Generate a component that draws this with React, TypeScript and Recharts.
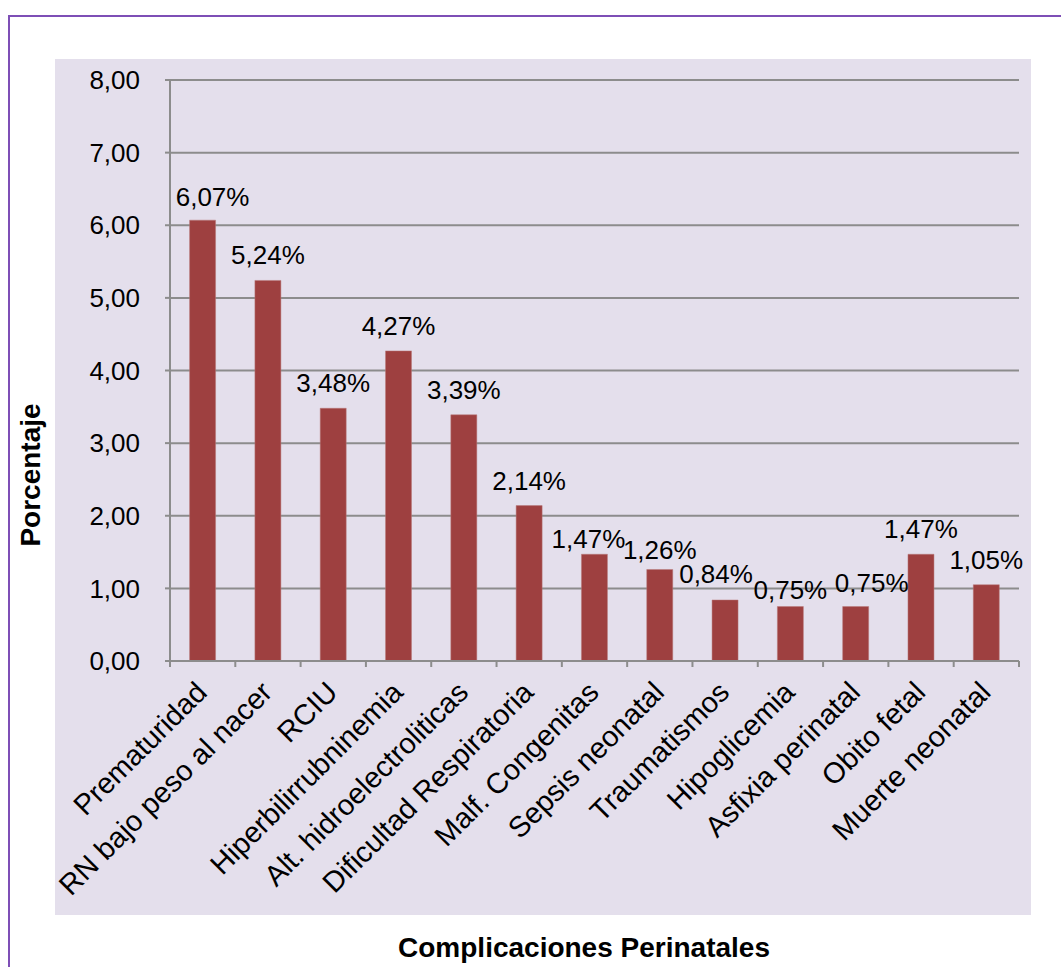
import { BarChart, Bar, XAxis, YAxis, CartesianGrid, LabelList } from 'recharts'

const categories = [
  'Prematuridad',
  'RN bajo peso al nacer',
  'RCIU',
  'Hiperbilirrubninemia',
  'Alt. hidroelectroliticas',
  'Dificultad Respiratoria',
  'Malf. Congenitas',
  'Sepsis neonatal',
  'Traumatismos',
  'Hipoglicemia',
  'Asfixia perinatal',
  'Obito fetal',
  'Muerte neonatal',
]

const percentages = [6.07, 5.24, 3.48, 4.27, 3.39, 2.14, 1.47, 1.26, 0.84, 0.75, 0.75, 1.47, 1.05]

const yTicks = [0, 1, 2, 3, 4, 5, 6, 7, 8]

const data = categories.map((name, i) => ({ name, value: percentages[i] }))

// small nudges like Excel does to keep crowded data labels apart
const labelNudge: Record<number, [number, number]> = {
  0: [10, 2],
  6: [-6, 10],
  7: [0, 6],
  8: [-9, -1],
  9: [0, 8],
  10: [16, 1],
}

const FONT = '"Liberation Sans", Arial, sans-serif'
const GRID = '#8c8c8c'

const fmt = (v: number) => v.toFixed(2).replace('.', ',')

function CategoryTick(props: any) {
  const { x, y, payload, index } = props
  const half = payload?.offset ?? 32.65
  const last = index === categories.length - 1
  return (
    <g>
      <line x1={x - half} x2={x - half} y1={y} y2={y + 6} stroke={GRID} strokeWidth={2} />
      {last && <line x1={x + half} x2={x + half} y1={y} y2={y + 6} stroke={GRID} strokeWidth={2} />}
      <text
        transform={`translate(${x + 6},${y + 33}) rotate(-45)`}
        textAnchor="end"
        fontSize={29}
        fontFamily={FONT}
        fill="#000"
      >
        {payload.value}
      </text>
    </g>
  )
}

function ValueLabel(props: any) {
  const { x, y, width, value, index } = props
  const [dx, dy] = labelNudge[index] ?? [0, 0]
  return (
    <text
      x={x + width / 2 + dx}
      y={y - 16 + dy}
      textAnchor="middle"
      fontSize={26}
      fontFamily={FONT}
      fill="#000"
    >
      {fmt(Number(value)) + '%'}
    </text>
  )
}

export default function App() {
  return (
    <div style={{ position: 'absolute', left: 0, top: 0, width: 1061, height: 967, background: '#fff', overflow: 'hidden' }}>
      {/* purple frame */}
      <div style={{ position: 'absolute', left: 8, top: 15, width: 1100, height: 1000, borderLeft: '2px solid #7e4fb6', borderTop: '2px solid #7e4fb6' }} />
      {/* plot background */}
      <div style={{ position: 'absolute', left: 55, top: 59, width: 976, height: 856, background: '#e4dfec' }} />
      <div style={{ position: 'absolute', left: 0, top: 0 }}>
        <BarChart width={1061} height={967} data={data} margin={{ top: 80, right: 42, left: 70, bottom: 56 }} barCategoryGap="30%">
          <CartesianGrid vertical={false} stroke={GRID} strokeWidth={2} />
          <XAxis
            dataKey="name"
            interval={0}
            height={250}
            tickSize={0}
            tickMargin={0}
            tickLine={false}
            axisLine={{ stroke: GRID, strokeWidth: 2 }}
            tick={<CategoryTick />}
          />
          <YAxis
            width={100}
            domain={[0, 8]}
            ticks={yTicks}
            tickFormatter={fmt}
            tickSize={5}
            tickMargin={25}
            tickLine={{ stroke: GRID, strokeWidth: 2 }}
            axisLine={{ stroke: GRID, strokeWidth: 2 }}
            tick={{ fill: '#000', fontSize: 26, fontFamily: FONT }}
          />
          <Bar dataKey="value" fill="#9e4040" stroke="#b87a7a" strokeWidth={0.5} isAnimationActive={false}>
            <LabelList dataKey="value" content={<ValueLabel />} />
          </Bar>
        </BarChart>
      </div>
      <div
        style={{
          position: 'absolute',
          left: 31,
          top: 475,
          transform: 'translate(-50%, -50%) rotate(-90deg)',
          fontFamily: FONT,
          fontWeight: 'bold',
          fontSize: 28,
          whiteSpace: 'nowrap',
          lineHeight: 1,
        }}
      >
        Porcentaje
      </div>
      <div
        style={{
          position: 'absolute',
          left: 584,
          top: 934,
          transform: 'translateX(-50%)',
          fontFamily: FONT,
          fontWeight: 'bold',
          fontSize: 28,
          whiteSpace: 'nowrap',
          lineHeight: 1,
        }}
      >
        Complicaciones Perinatales
      </div>
    </div>
  )
}
